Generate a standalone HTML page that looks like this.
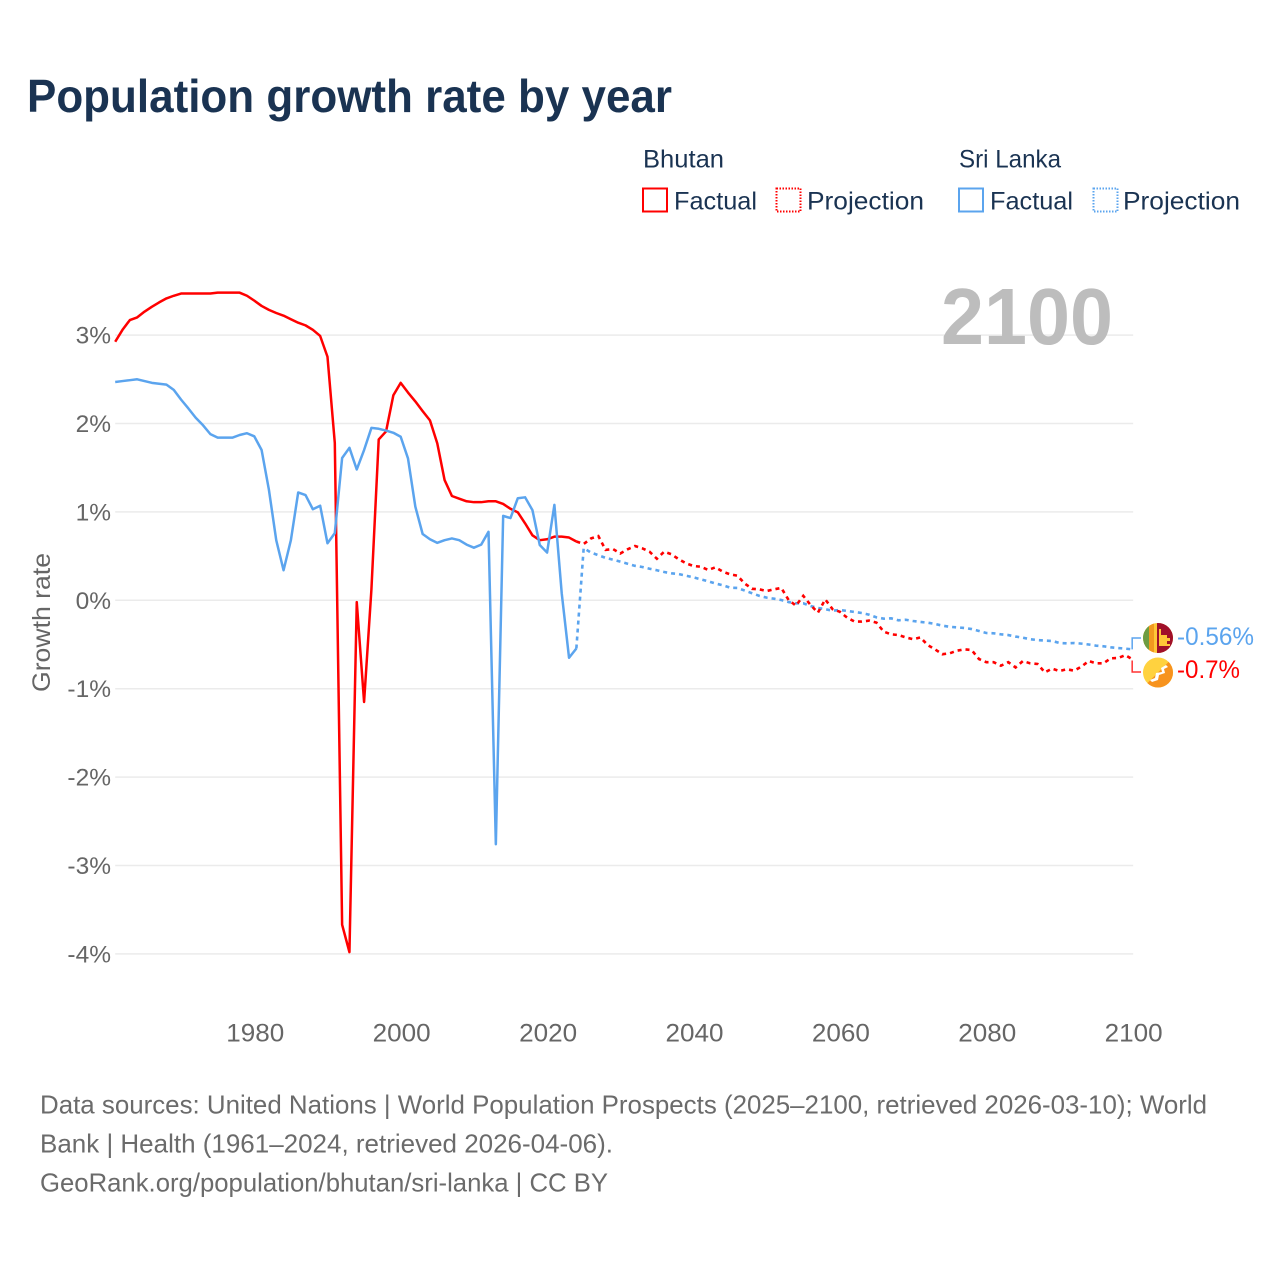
<!DOCTYPE html>
<html lang="en">
<head>
<meta charset="utf-8">
<title>Population growth rate by year</title>
<style>
html,body{margin:0;padding:0;background:#fff;width:1280px;height:1280px;overflow:hidden}
svg{display:block}
text{font-family:"Liberation Sans",sans-serif}
</style>
</head>
<body>
<svg id="chart" xmlns="http://www.w3.org/2000/svg" width="1280" height="1280" viewBox="0 0 1280 1280">
  <rect width="1280" height="1280" fill="#fff"/>
  <text x="27" y="112" font-size="46" font-weight="700" fill="#1a3352" textLength="645" lengthAdjust="spacingAndGlyphs">Population growth rate by year</text>

  <g font-size="25" fill="#1a3352">
    <text x="643" y="167.500" textLength="81" lengthAdjust="spacingAndGlyphs">Bhutan</text>
    <text x="959" y="167.500" textLength="102" lengthAdjust="spacingAndGlyphs">Sri Lanka</text>
    <rect x="643" y="188.500" width="24" height="23" fill="none" stroke="#ff0000" stroke-width="2"/>
    <text x="674" y="209.500" textLength="83" lengthAdjust="spacingAndGlyphs">Factual</text>
    <rect x="776.500" y="188.500" width="24" height="23" fill="none" stroke="#ff0000" stroke-width="2" stroke-dasharray="1.500 1.500"/>
    <text x="807" y="209.500" textLength="117" lengthAdjust="spacingAndGlyphs">Projection</text>
    <rect x="959" y="188.500" width="24" height="23" fill="none" stroke="#5ba4ee" stroke-width="2"/>
    <text x="990" y="209.500" textLength="83" lengthAdjust="spacingAndGlyphs">Factual</text>
    <rect x="1093.500" y="188.500" width="24" height="23" fill="none" stroke="#5ba4ee" stroke-width="2" stroke-dasharray="1.500 1.500"/>
    <text x="1123" y="209.500" textLength="117" lengthAdjust="spacingAndGlyphs">Projection</text>
  </g>

  <g id="grid"></g>
  <g id="yticks"></g>
  <g id="xticks"></g>
  <text transform="translate(50,622.500) rotate(-90)" text-anchor="middle" font-size="25" fill="#666" textLength="139" lengthAdjust="spacingAndGlyphs">Growth rate</text>
  <text x="941" y="344" font-size="80" font-weight="700" fill="#bdbdbd" textLength="172" lengthAdjust="spacingAndGlyphs">2100</text>

  <g id="series"></g>
  <g id="connectors"></g>

  <defs>
    <clipPath id="clip-lk"><circle cx="1158" cy="638" r="15"/></clipPath>
    <clipPath id="clip-bt"><circle cx="1158" cy="672.500" r="15"/></clipPath>
  </defs>
  <g clip-path="url(#clip-lk)">
    <rect x="1143" y="623" width="30" height="30" fill="#ffc737"/>
    <rect x="1143" y="623" width="6" height="30" fill="#6d9c42"/>
    <rect x="1149" y="623" width="5" height="30" fill="#f29a1f"/>
    <rect x="1157" y="623" width="16" height="30" fill="#a0102a"/>
    <path d="M1159 629h2v6h6v3h3v3h-3v3h3v2h-11z" fill="#ffc737"/>
  </g>
  <g clip-path="url(#clip-bt)">
    <rect x="1143" y="657.500" width="30" height="30" fill="#ffd23f"/>
    <path d="M1173 657.500v30h-30z" fill="#f7931e"/>
    <path d="M1150 680l5-2 1-5 6-1-1-4 5-3 2 2-4 2 1 4-6 2-1 5-6 2z" fill="#fff"/>
  </g>

  <text id="label-lk" x="1177" y="645" font-size="25" fill="#5ba4ee" textLength="77" lengthAdjust="spacingAndGlyphs"></text>
  <text id="label-bt" x="1177" y="678" font-size="25" fill="#ff0000" textLength="63" lengthAdjust="spacingAndGlyphs"></text>

  <g font-size="26" fill="#6b6b6b">
    <text x="40" y="1113.500" textLength="1167" lengthAdjust="spacingAndGlyphs">Data sources: United Nations | World Population Prospects (2025–2100, retrieved 2026-03-10); World</text>
    <text x="40" y="1152.500" textLength="573" lengthAdjust="spacingAndGlyphs">Bank | Health (1961–2024, retrieved 2026-04-06).</text>
    <text x="40" y="1191.500" textLength="568" lengthAdjust="spacingAndGlyphs">GeoRank.org/population/bhutan/sri-lanka | CC BY</text>
  </g>
</svg>
<script>
const xTickLabels = [1980, 2000, 2020, 2040, 2060, 2080, 2100];
const yTickLabels = [3, 2, 1, 0, -1, -2, -3, -4];
const factualStartYear = 1961;
const projectionStartYear = 2025;
const bhutanFactual = [2.925,3.06,3.17,3.20,3.265,3.32,3.37,3.415,3.445,3.47,3.47,3.47,3.47,3.47,3.48,3.48,3.48,3.48,3.445,3.39,3.33,3.285,3.25,3.22,3.18,3.14,3.11,3.06,2.99,2.755,1.78,-3.67,-3.98,-0.02,-1.15,0.12,1.82,1.91,2.32,2.46,2.35,2.25,2.14,2.035,1.775,1.36,1.18,1.15,1.12,1.11,1.11,1.12,1.12,1.09,1.035,0.995,0.87,0.735,0.68,0.69,0.72,0.72,0.71,0.665];
const sriLankaFactual = [2.47,2.48,2.49,2.50,2.48,2.46,2.45,2.44,2.38,2.27,2.17,2.065,1.98,1.88,1.84,1.84,1.84,1.87,1.89,1.855,1.70,1.25,0.68,0.34,0.68,1.22,1.19,1.03,1.07,0.645,0.76,1.61,1.725,1.48,1.70,1.95,1.94,1.92,1.895,1.85,1.605,1.06,0.75,0.69,0.65,0.68,0.70,0.68,0.63,0.595,0.63,0.775,-2.76,0.955,0.93,1.155,1.165,1.02,0.625,0.54,1.08,0.08,-0.65,-0.545];
const bhutanProjection = [0.637,0.70,0.727,0.57,0.58,0.53,0.577,0.614,0.588,0.55,0.47,0.55,0.52,0.464,0.418,0.388,0.38,0.343,0.373,0.324,0.294,0.278,0.19,0.13,0.124,0.105,0.124,0.14,0.003,-0.06,0.05,-0.053,-0.14,0.01,-0.10,-0.13,-0.197,-0.24,-0.24,-0.23,-0.253,-0.355,-0.385,-0.393,-0.42,-0.44,-0.42,-0.506,-0.555,-0.61,-0.60,-0.57,-0.555,-0.562,-0.664,-0.70,-0.70,-0.74,-0.70,-0.76,-0.687,-0.713,-0.72,-0.815,-0.773,-0.80,-0.78,-0.796,-0.75,-0.687,-0.713,-0.713,-0.656,-0.653,-0.62,-0.67];
const sriLankaProjection = [0.59,0.54,0.51,0.48,0.46,0.437,0.414,0.39,0.377,0.357,0.34,0.32,0.305,0.297,0.278,0.26,0.237,0.215,0.19,0.17,0.143,0.14,0.11,0.08,0.05,0.03,0.018,0.003,-0.02,-0.034,-0.034,-0.065,-0.087,-0.10,-0.118,-0.11,-0.12,-0.132,-0.144,-0.163,-0.193,-0.208,-0.204,-0.226,-0.22,-0.234,-0.245,-0.253,-0.268,-0.287,-0.30,-0.306,-0.313,-0.325,-0.347,-0.37,-0.373,-0.385,-0.393,-0.41,-0.423,-0.44,-0.45,-0.456,-0.46,-0.483,-0.487,-0.483,-0.49,-0.50,-0.513,-0.52,-0.532,-0.54,-0.547,-0.555];
const endLabelSriLanka = "-0.56%";
const endLabelBhutan = "-0.7%";

const SVGNS = 'http://www.w3.org/2000/svg';
function xScale(year){ return 115.2 + (year - 1961) * 7.32; }
function yScale(v){ return 600.3 - v * 88.4; }
function make(tag, attrs, parent){
  const el = document.createElementNS(SVGNS, tag);
  for (const k in attrs) el.setAttribute(k, attrs[k]);
  parent.appendChild(el);
  return el;
}
function pathFrom(values, startYear, prefixPoint){
  const pts = values.map((v, i) => xScale(startYear + i).toFixed(2) + ' ' + yScale(v).toFixed(2));
  if (prefixPoint) pts.unshift(prefixPoint);
  return 'M' + pts.join('L');
}

const grid = document.getElementById('grid');
const yticks = document.getElementById('yticks');
yTickLabels.forEach(t => {
  const line = make('line', {x1: xScale(1961), x2: xScale(2100) + 0.5, y1: yScale(t), y2: yScale(t), stroke: '#ebebeb', 'stroke-width': 1.5}, grid);
  
  
  const label = make('text', {x: 111, y: yScale(t) + 8.5, 'text-anchor': 'end', 'font-size': 24.5, fill: '#666'}, yticks);
  
  
  label.textContent = t + '%';
});

const xticks = document.getElementById('xticks');
xTickLabels.forEach(t => {
  const label = make('text', {x: xScale(t) + 1, y: 1041.5, 'text-anchor': 'middle', 'font-size': 25, fill: '#666', textLength: 58, lengthAdjust: 'spacingAndGlyphs'}, xticks);
  
  
  label.textContent = t;
});

const series = document.getElementById('series');
const BLUE = '#5ba4ee', RED = '#ff0000';
const lastPoint = (vals, start) => xScale(start + vals.length - 1).toFixed(2) + ' ' + yScale(vals[vals.length - 1]).toFixed(2);

const lkProj = make('path', {d: pathFrom(sriLankaProjection, projectionStartYear, lastPoint(sriLankaFactual, factualStartYear)), fill: 'none', stroke: BLUE, 'stroke-width': 2.6, 'stroke-dasharray': '4 4'}, series);


const btProj = make('path', {d: pathFrom(bhutanProjection, projectionStartYear, lastPoint(bhutanFactual, factualStartYear)), fill: 'none', stroke: RED, 'stroke-width': 2.6, 'stroke-dasharray': '4 4'}, series);


const btFact = make('path', {d: pathFrom(bhutanFactual, factualStartYear), fill: 'none', stroke: RED, 'stroke-width': 2.5, 'stroke-linejoin': 'round'}, series);


const lkFact = make('path', {d: pathFrom(sriLankaFactual, factualStartYear), fill: 'none', stroke: BLUE, 'stroke-width': 2.5, 'stroke-linejoin': 'round'}, series);



const connectors = document.getElementById('connectors');
const endX = xScale(2100) - 0.5;
const lkEnd = yScale(sriLankaProjection[sriLankaProjection.length - 1]);
const btEnd = yScale(bhutanProjection[bhutanProjection.length - 1]);
const lkConn = make('path', {d: 'M' + endX + ' ' + lkEnd + 'V638H1141', fill: 'none', stroke: BLUE, 'stroke-width': 1.5}, connectors);


const btConn = make('path', {d: 'M' + endX + ' ' + (btEnd + 1) + 'V672H1141', fill: 'none', stroke: RED, 'stroke-width': 1.5, 'stroke-opacity': 0.8}, connectors);



document.getElementById('label-lk').textContent = endLabelSriLanka;
document.getElementById('label-bt').textContent = endLabelBhutan;
</script>
</body>
</html>
